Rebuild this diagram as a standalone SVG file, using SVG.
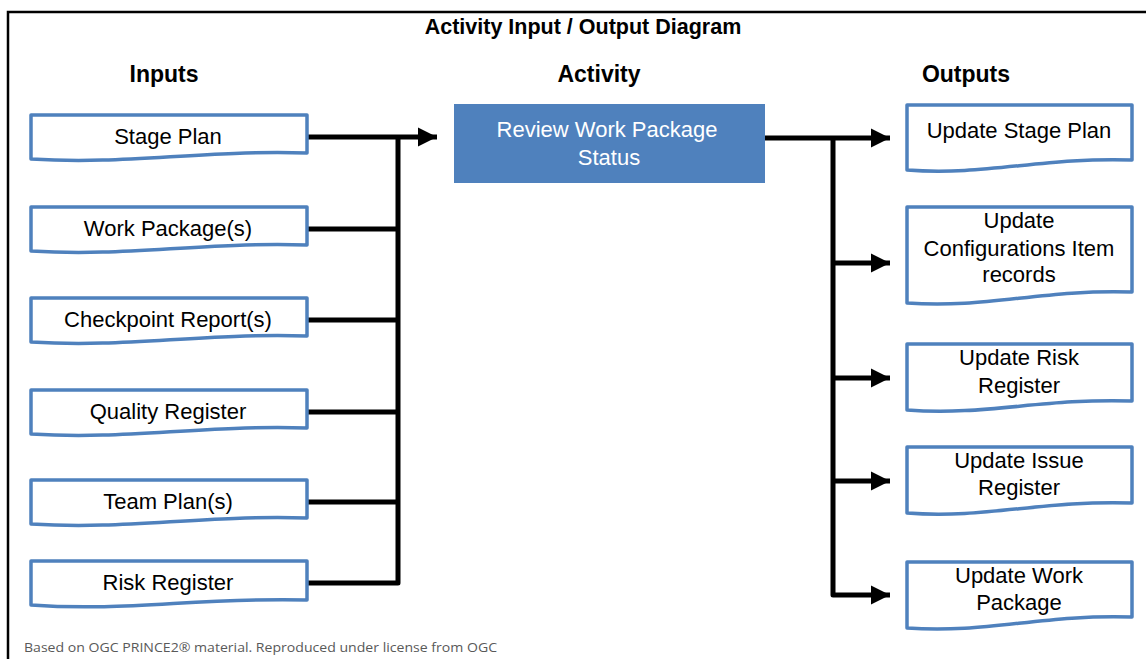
<svg xmlns="http://www.w3.org/2000/svg" width="1146" height="659" viewBox="0 0 1146 659">
<style>
.doc{fill:#fff;stroke:#4F81BD;stroke-width:3.5;stroke-linejoin:round}
.t{font-family:"Liberation Sans",Arial,sans-serif;font-size:22px;fill:#000;text-anchor:middle}
.h{font-family:"Liberation Sans",Arial,sans-serif;font-weight:bold;fill:#000;text-anchor:middle}
.c{fill:none;stroke:#000;stroke-width:5;stroke-linejoin:round}
</style>
<defs>
<marker id="ah" markerUnits="userSpaceOnUse" markerWidth="20" markerHeight="20" viewBox="0 0 20 20" refX="19" refY="10" orient="auto">
<path d="M0,0.5 L19,10 L0,19.5 Z" fill="#000"/>
</marker>
</defs>
<rect width="1146" height="659" fill="#fff"/>
<path d="M8,662 V12 H1150" fill="none" stroke="#000" stroke-width="2.5"/>
<text class="h" x="583" y="34" font-size="21.5">Activity Input / Output Diagram</text>
<text class="h" x="164" y="82" font-size="23">Inputs</text>
<text class="h" x="599" y="82" font-size="23">Activity</text>
<text class="h" x="966" y="82" font-size="23">Outputs</text>

<g id="connectors">
<path class="c" d="M307,137 H437" marker-end="url(#ah)"/>
<path class="c" d="M307,229 H398 M307,320 H398 M307,412 H398 M307,502 H398"/>
<path class="c" d="M398,137 V583 H307"/>
<path class="c" d="M765,138 H890" marker-end="url(#ah)"/>
<path class="c" d="M833,138 V595 H890" marker-end="url(#ah)"/>
<path class="c" d="M833,263 H890" marker-end="url(#ah)"/>
<path class="c" d="M833,378 H890" marker-end="url(#ah)"/>
<path class="c" d="M833,481 H890" marker-end="url(#ah)"/>
</g>

<g id="in-stage-plan">
<path class="doc" d="M31,115 H307 V153 C196.6,150 127.6,165 31,159 Z"/>
<text class="t" x="168" y="144">Stage Plan</text>
</g>
<g id="in-work-package">
<path class="doc" d="M31,207 H307 V245 C196.6,242 127.6,257 31,251 Z"/>
<text class="t" x="168" y="236">Work Package(s)</text>
</g>
<g id="in-checkpoint">
<path class="doc" d="M31,298 H307 V336 C196.6,333 127.6,348 31,342 Z"/>
<text class="t" x="168" y="327">Checkpoint Report(s)</text>
</g>
<g id="in-quality">
<path class="doc" d="M31,390 H307 V428 C196.6,425 127.6,440 31,434 Z"/>
<text class="t" x="168" y="419">Quality Register</text>
</g>
<g id="in-team-plan">
<path class="doc" d="M31,480 H307 V518 C196.6,515 127.6,530 31,524 Z"/>
<text class="t" x="168" y="509">Team Plan(s)</text>
</g>
<g id="in-risk">
<path class="doc" d="M31,561 H307 V600 C196.6,597 127.6,612 31,605 Z"/>
<text class="t" x="168" y="590">Risk Register</text>
</g>

<g id="activity">
<rect x="454" y="104" width="311" height="79" fill="#4F81BD"/>
<text class="t" x="607" y="137" style="fill:#fff">Review Work Package</text>
<text class="t" x="609" y="165" style="fill:#fff">Status</text>
</g>

<g id="out-stage-plan">
<path class="doc" d="M907,105 H1132 V160 C1042,157 986,176 907,170 Z"/>
<text class="t" x="1019" y="138">Update Stage Plan</text>
</g>
<g id="out-config">
<path class="doc" d="M907,207 H1132 V292 C1042,289 986,309 907,303 Z"/>
<text class="t" x="1019" y="228">Update</text>
<text class="t" x="1019" y="256">Configurations Item</text>
<text class="t" x="1019" y="282">records</text>
</g>
<g id="out-risk">
<path class="doc" d="M907,344 H1132 V401 C1042,398 986,416 907,410 Z"/>
<text class="t" x="1019" y="365">Update Risk</text>
<text class="t" x="1019" y="393">Register</text>
</g>
<g id="out-issue">
<path class="doc" d="M907,447 H1132 V503 C1042,500 986,519 907,513 Z"/>
<text class="t" x="1019" y="468">Update Issue</text>
<text class="t" x="1019" y="495">Register</text>
</g>
<g id="out-work-package">
<path class="doc" d="M907,562 H1132 V617 C1042,614 986,634 907,628 Z"/>
<text class="t" x="1019" y="583">Update Work</text>
<text class="t" x="1019" y="610">Package</text>
</g>

<text x="24" y="652" font-family="'Open Sans','Liberation Sans',sans-serif" font-size="13" fill="#595959" textLength="473" lengthAdjust="spacingAndGlyphs">Based on OGC PRINCE2® material. Reproduced under license from OGC</text>
</svg>
